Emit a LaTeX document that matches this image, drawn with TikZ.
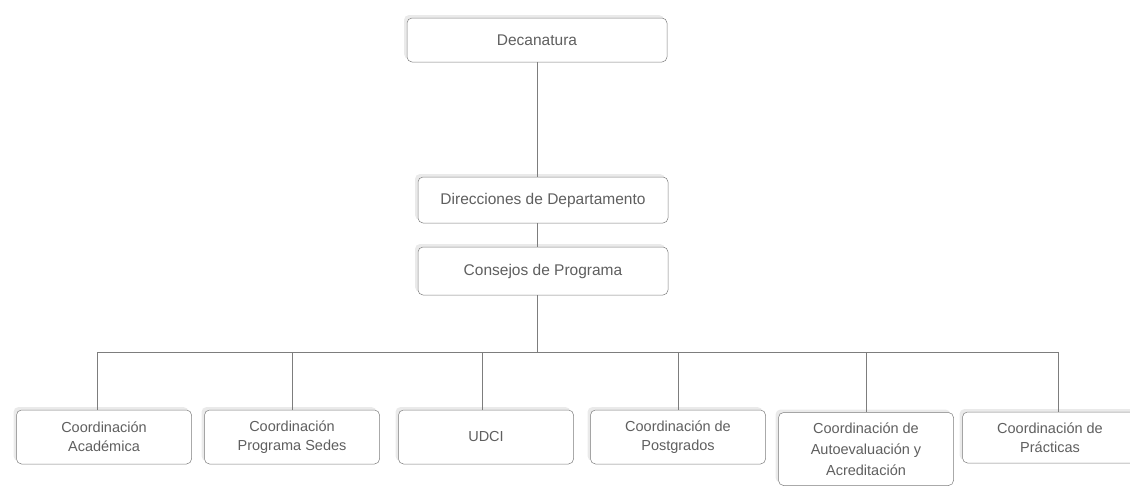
\documentclass[tikz,border=0pt]{standalone}
\usepackage{fontspec}
\setmainfont{Liberation Sans}
\usetikzlibrary{shadows}
\definecolor{boxline}{RGB}{125,125,125}
\definecolor{boxtext}{RGB}{95,95,95}
\begin{document}
\begin{tikzpicture}[x=1pt,y=-1pt,
    unidad/.style ={rectangle, draw=boxline, rounded corners=5pt, fill=white,
      text=boxtext, align=center, inner sep=2pt, line width=0.5pt,
      drop shadow={shadow xshift=-3pt, shadow yshift=3pt, fill=black!16},
      font=\fontsize{15.5}{19}\selectfont},
    coord/.style ={unidad, minimum width=175pt, minimum height=54pt,
      font=\fontsize{14.5}{19}\selectfont},
    enlace/.style ={draw=boxline, line width=0.5pt}]
   \useasboundingbox (0,0) rectangle (1130,485);
   \node[unidad, minimum width=260pt, minimum height=44pt] (deca) at (537,40) {Decanatura};
   \node[unidad, minimum width=250pt, minimum height=46pt] (dir)  at (543,200) {Direcciones de Departamento};
   \node[unidad, minimum width=250pt, minimum height=48pt] (cons) at (543,271) {Consejos de Programa};
   \node[coord] (acad) at (104,437) {Coordinación\\Académica};
   \node[coord] (sedes) at (292,437) {Coordinación\\Programa Sedes};
   \node[coord] (udci) at (486,437) {UDCI};
   \node[coord] (post) at (678,437) {Coordinación de\\Postgrados};
   \node[coord, minimum height=73pt, font=\fontsize{14.5}{21}\selectfont] (auto) at (866,449) {Coordinación de\\Autoevaluación y\\Acreditación};
   \node[coord, minimum height=51pt] (prac) at (1050,437.5) {Coordinación de\\Prácticas};
   \coordinate (bar) at (537,352);
   \draw[enlace] (deca.south) to (deca.south |- dir.north);
   \draw[enlace] (deca.south |- dir.south) to (deca.south |- cons.north);
   \draw[enlace] (deca.south |- cons.south) to (bar);
   \draw[enlace] (bar) -| ([xshift=-7pt]acad.north);
   \draw[enlace] (bar) -| (sedes.north);
   \draw[enlace] (bar) -| ([xshift=-4pt]udci.north);
   \draw[enlace] (bar) -| (post.north);
   \draw[enlace] (bar) -| (auto.north);
   \draw[enlace] (bar) -| ([xshift=8pt]prac.north);
 \end{tikzpicture}
\end{document}
